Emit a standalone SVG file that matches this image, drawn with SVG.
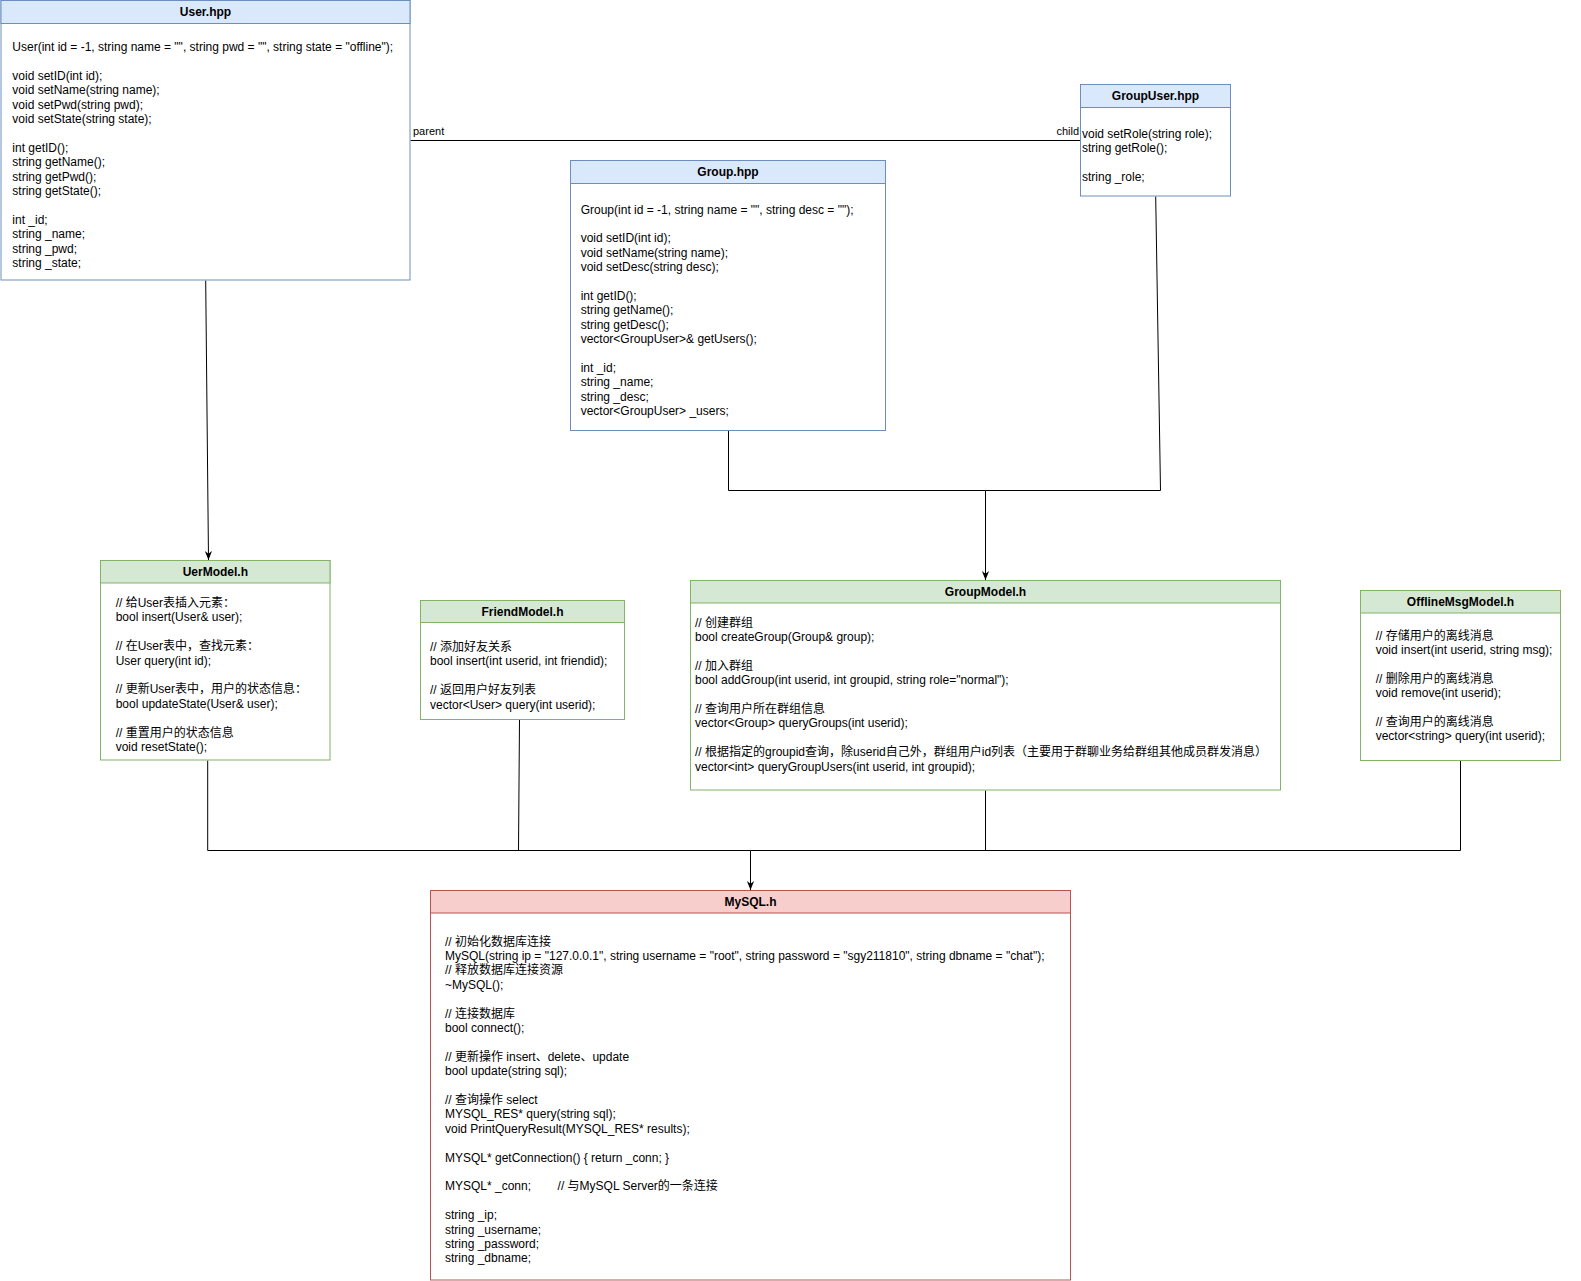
<svg xmlns="http://www.w3.org/2000/svg" width="1581" height="1281" viewBox="0 0 1581 1281">
<style>
.blue .box{stroke:#6c8ebf;fill:#ffffff;stroke-width:1;}
.blue .hd{fill:#dae8fc;stroke:#6c8ebf;stroke-width:1;}
.green .box{stroke:#82b366;fill:#ffffff;stroke-width:1;}
.green .hd{fill:#d5e8d4;stroke:#82b366;stroke-width:1;}
.red .box{stroke:#b85450;fill:#ffffff;stroke-width:1;}
.red .hd{fill:#f8cecc;stroke:#b85450;stroke-width:1;}
.title{font-family:"Liberation Sans","Noto Sans CJK SC",sans-serif;font-size:12px;font-weight:bold;fill:#000;text-anchor:middle;}
.t{font-family:"Liberation Sans","Noto Sans CJK SC",sans-serif;font-size:12px;fill:#000;}
.lbl{font-family:"Liberation Sans","Noto Sans CJK SC",sans-serif;font-size:11px;fill:#000;}
.edge{fill:none;stroke:#000;stroke-width:1;}
</style>
<defs>
<marker id="arr" viewBox="0 0 10 10" refX="10" refY="5" markerWidth="9" markerHeight="9" markerUnits="userSpaceOnUse" orient="auto">
<path d="M0,1 L10,5 L0,9 L3,5 z" fill="#000"/>
</marker>
</defs>
<rect x="0" y="0" width="1581" height="1281" fill="#ffffff"/>

<g id="connectors">
<path class="edge" d="M410.5,140.5 H1080.5"/>
<text class="lbl" x="413" y="135">parent</text>
<text class="lbl" x="1079" y="135" text-anchor="end">child</text>
<path class="edge" d="M205.7,280.5 L208.5,560" marker-end="url(#arr)"/>
<path class="edge" d="M728.5,430.5 V490.5 H985.5 V580" marker-end="url(#arr)"/>
<path class="edge" d="M1155.7,196.5 L1160.5,490.5 H985.5"/>
<path class="edge" d="M207.7,760.5 V850.5 H750.5 V890" marker-end="url(#arr)"/>
<path class="edge" d="M519.5,719.5 L518.5,850.5"/>
<path class="edge" d="M985.5,790.5 V850.5"/>
<path class="edge" d="M1460.5,760.5 V850.5 H750.5"/>
</g>

<g id="user-hpp" class="blue">
<rect class="box" x="1" y="0.5" width="409" height="279.5"/>
<rect class="hd" x="1" y="0.5" width="409" height="23"/>
<text class="title" x="205.5" y="16.2">User.hpp</text>
<text class="t">
<tspan x="12.3" y="51">User(int id = -1, string name = "", string pwd = "", string state = "offline");</tspan>
<tspan x="12.3" y="79.8">void setID(int id);</tspan>
<tspan x="12.3" y="94.2">void setName(string name);</tspan>
<tspan x="12.3" y="108.6">void setPwd(string pwd);</tspan>
<tspan x="12.3" y="123">void setState(string state);</tspan>
<tspan x="12.3" y="151.8">int getID();</tspan>
<tspan x="12.3" y="166.2">string getName();</tspan>
<tspan x="12.3" y="180.6">string getPwd();</tspan>
<tspan x="12.3" y="195">string getState();</tspan>
<tspan x="12.3" y="223.8">int _id;</tspan>
<tspan x="12.3" y="238.2">string _name;</tspan>
<tspan x="12.3" y="252.6">string _pwd;</tspan>
<tspan x="12.3" y="267">string _state;</tspan>
</text>
</g>

<g id="groupuser-hpp" class="blue">
<rect class="box" x="1080.5" y="84.5" width="150" height="111.5"/>
<rect class="hd" x="1080.5" y="84.5" width="150" height="23"/>
<text class="title" x="1155.5" y="100">GroupUser.hpp</text>
<text class="t">
<tspan x="1082" y="138">void setRole(string role);</tspan>
<tspan x="1082" y="152.4">string getRole();</tspan>
<tspan x="1082" y="181.2">string _role;</tspan>
</text>
</g>

<g id="group-hpp" class="blue">
<rect class="box" x="570.5" y="160.5" width="315" height="270"/>
<rect class="hd" x="570.5" y="160.5" width="315" height="23"/>
<text class="title" x="728" y="176">Group.hpp</text>
<text class="t">
<tspan x="580.7" y="213.5">Group(int id = -1, string name = "", string desc = "");</tspan>
<tspan x="580.7" y="242.3">void setID(int id);</tspan>
<tspan x="580.7" y="256.7">void setName(string name);</tspan>
<tspan x="580.7" y="271.1">void setDesc(string desc);</tspan>
<tspan x="580.7" y="299.9">int getID();</tspan>
<tspan x="580.7" y="314.3">string getName();</tspan>
<tspan x="580.7" y="328.7">string getDesc();</tspan>
<tspan x="580.7" y="343.1">vector&lt;GroupUser&gt;&amp; getUsers();</tspan>
<tspan x="580.7" y="371.9">int _id;</tspan>
<tspan x="580.7" y="386.3">string _name;</tspan>
<tspan x="580.7" y="400.7">string _desc;</tspan>
<tspan x="580.7" y="415.1">vector&lt;GroupUser&gt; _users;</tspan>
</text>
</g>

<g id="uermodel-h" class="green">
<rect class="box" x="100.5" y="560.5" width="229.5" height="199.5"/>
<rect class="hd" x="100.5" y="560.5" width="229.5" height="22.5"/>
<text class="title" x="215.3" y="576">UerModel.h</text>
<text class="t">
<tspan x="115.7" y="607">// 给User表插入元素：</tspan>
<tspan x="115.7" y="621.4">bool insert(User&amp; user);</tspan>
<tspan x="115.7" y="650.2">// 在User表中，查找元素：</tspan>
<tspan x="115.7" y="664.6">User query(int id);</tspan>
<tspan x="115.7" y="693.4">// 更新User表中，用户的状态信息：</tspan>
<tspan x="115.7" y="707.8">bool updateState(User&amp; user);</tspan>
<tspan x="115.7" y="736.6">// 重置用户的状态信息</tspan>
<tspan x="115.7" y="751">void resetState();</tspan>
</text>
</g>

<g id="friendmodel-h" class="green">
<rect class="box" x="420.5" y="600.5" width="204" height="119"/>
<rect class="hd" x="420.5" y="600.5" width="204" height="22"/>
<text class="title" x="522.5" y="615.7">FriendModel.h</text>
<text class="t">
<tspan x="430" y="651">// 添加好友关系</tspan>
<tspan x="430" y="665.4">bool insert(int userid, int friendid);</tspan>
<tspan x="430" y="694.2">// 返回用户好友列表</tspan>
<tspan x="430" y="708.6">vector&lt;User&gt; query(int userid);</tspan>
</text>
</g>

<g id="groupmodel-h" class="green">
<rect class="box" x="690.5" y="580.5" width="590" height="209.5"/>
<rect class="hd" x="690.5" y="580.5" width="590" height="22.5"/>
<text class="title" x="985.5" y="596.2">GroupModel.h</text>
<text class="t">
<tspan x="695" y="626.6">// 创建群组</tspan>
<tspan x="695" y="641">bool createGroup(Group&amp; group);</tspan>
<tspan x="695" y="669.8">// 加入群组</tspan>
<tspan x="695" y="684.2">bool addGroup(int userid, int groupid, string role="normal");</tspan>
<tspan x="695" y="713">// 查询用户所在群组信息</tspan>
<tspan x="695" y="727.4">vector&lt;Group&gt; queryGroups(int userid);</tspan>
<tspan x="695" y="756.2">// 根据指定的groupid查询，除userid自己外，群组用户id列表（主要用于群聊业务给群组其他成员群发消息）</tspan>
<tspan x="695" y="770.6">vector&lt;int&gt; queryGroupUsers(int userid, int groupid);</tspan>
</text>
</g>

<g id="offlinemsgmodel-h" class="green">
<rect class="box" x="1360.5" y="590.5" width="200" height="170"/>
<rect class="hd" x="1360.5" y="590.5" width="200" height="22.5"/>
<text class="title" x="1460.5" y="606">OfflineMsgModel.h</text>
<text class="t">
<tspan x="1375.7" y="639.5">// 存储用户的离线消息</tspan>
<tspan x="1375.7" y="653.9">void insert(int userid, string msg);</tspan>
<tspan x="1375.7" y="682.7">// 删除用户的离线消息</tspan>
<tspan x="1375.7" y="697.1">void remove(int userid);</tspan>
<tspan x="1375.7" y="725.9">// 查询用户的离线消息</tspan>
<tspan x="1375.7" y="740.3">vector&lt;string&gt; query(int userid);</tspan>
</text>
</g>

<g id="mysql-h" class="red">
<rect class="box" x="430.5" y="890.5" width="640" height="389.5"/>
<rect class="hd" x="430.5" y="890.5" width="640" height="22.5"/>
<text class="title" x="750.5" y="906">MySQL.h</text>
<text class="t">
<tspan x="445" y="945.5">// 初始化数据库连接</tspan>
<tspan x="445" y="959.9">MySQL(string ip = "127.0.0.1", string username = "root", string password = "sgy211810", string dbname = "chat");</tspan>
<tspan x="445" y="974.3">// 释放数据库连接资源</tspan>
<tspan x="445" y="988.7">~MySQL();</tspan>
<tspan x="445" y="1017.5">// 连接数据库</tspan>
<tspan x="445" y="1031.9">bool connect();</tspan>
<tspan x="445" y="1060.7">// 更新操作 insert、delete、update</tspan>
<tspan x="445" y="1075.1">bool update(string sql);</tspan>
<tspan x="445" y="1103.9">// 查询操作 select</tspan>
<tspan x="445" y="1118.3">MYSQL_RES* query(string sql);</tspan>
<tspan x="445" y="1132.7">void PrintQueryResult(MYSQL_RES* results);</tspan>
<tspan x="445" y="1161.5">MYSQL* getConnection() { return _conn; }</tspan>
<tspan x="445" y="1190.3">MYSQL* _conn;</tspan>
<tspan x="557.6" y="1190.3">// 与MySQL Server的一条连接</tspan>
<tspan x="445" y="1219.1">string _ip;</tspan>
<tspan x="445" y="1233.5">string _username;</tspan>
<tspan x="445" y="1247.9">string _password;</tspan>
<tspan x="445" y="1262.3">string _dbname;</tspan>
</text>
</g>
</svg>
